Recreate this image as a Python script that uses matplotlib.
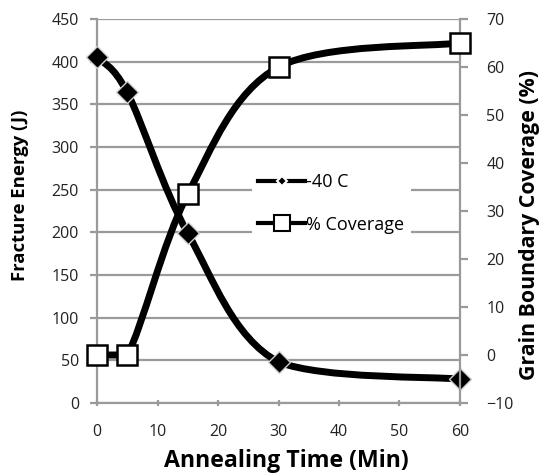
import matplotlib
matplotlib.use("Agg")
import matplotlib.pyplot as plt
from matplotlib.path import Path
from matplotlib.patches import PathPatch
from matplotlib.lines import Line2D
import numpy as np

plt.rcParams['font.family'] = ['Open Sans', 'DejaVu Sans']

time_min = [0, 5, 15, 30, 60]
energy_40c = [405, 364, 199, 48, 28]
coverage_pct = [0, 0, 33.5, 60, 65]
x_ticks = [0, 10, 20, 30, 40, 50, 60]
left_ticks = [0, 50, 100, 150, 200, 250, 300, 350, 400, 450]
right_ticks = [-10, 0, 10, 20, 30, 40, 50, 60, 70]

def smooth_path(xs, ys):
    pts = np.column_stack([xs, ys]).astype(float)
    n = len(pts)
    verts = [pts[0]]
    codes = [Path.MOVETO]
    for i in range(n - 1):
        p0 = pts[i - 1] if i > 0 else pts[i]
        p1 = pts[i]
        p2 = pts[i + 1]
        p3 = pts[i + 2] if i + 2 < n else pts[i + 1]
        c1 = p1 + (p2 - p0) / 6.0
        c2 = p2 - (p3 - p1) / 6.0
        lo, hi = min(p1[1], p2[1]), max(p1[1], p2[1])
        c1[1] = min(max(c1[1], lo), hi)
        c2[1] = min(max(c2[1], lo), hi)
        verts += [c1, c2, p2]
        codes += [Path.CURVE4] * 3
    return Path(verts, codes)

W, H = 543, 474
fig = plt.figure(figsize=(W / 100, H / 100), dpi=100)
ax = fig.add_axes([97 / W, 1 - 403 / H, 363 / W, 384 / H])
ax2 = ax.twinx()

grid_c = '#9a9a9a'
ax.set_xlim(0, 60)
ax.set_ylim(0, 450)
ax2.set_ylim(-10, 70)
ax.set_xticks(x_ticks)
ax.set_yticks(left_ticks)
ax2.set_yticks(right_ticks)
ax.yaxis.grid(True, color=grid_c, linewidth=1.6)
ax.set_axisbelow(True)

for a in (ax, ax2):
    for s in a.spines.values():
        s.set_visible(False)
for a, side in ((ax, 'left'), (ax, 'bottom'), (ax2, 'right')):
    a.spines[side].set_visible(True)
    a.spines[side].set_color(grid_c)
    a.spines[side].set_linewidth(1.6)

ax.tick_params(axis='y', length=5, width=1.6, color=grid_c, pad=8, labelsize=11.5, labelcolor='#222222')
ax.tick_params(axis='x', length=4, width=1.6, color=grid_c, pad=13, labelsize=11.5, labelcolor='#222222', direction='inout')
ax2.tick_params(axis='y', length=6, width=1.6, color=grid_c, pad=13, labelsize=11.5, labelcolor='#222222')

# -40 C series
p1 = PathPatch(smooth_path(time_min, energy_40c), facecolor='none', edgecolor='black',
               linewidth=5, zorder=3, clip_on=False)
ax.add_patch(p1)
ax.plot(time_min, energy_40c, linestyle='none', marker='D', markersize=11,
        markerfacecolor='black', markeredgecolor='#cfcfcf', markeredgewidth=1, zorder=4, clip_on=False)

# coverage series
p2 = PathPatch(smooth_path(time_min, coverage_pct), facecolor='none', edgecolor='black',
               linewidth=5, zorder=3, clip_on=False)
ax2.add_patch(p2)
ax2.plot(time_min, coverage_pct, linestyle='none', marker='s', markersize=15,
         markerfacecolor='white', markeredgecolor='black', markeredgewidth=1.8, zorder=4, clip_on=False)

fig.text(286 / W, 1 - 467 / H, 'Annealing Time (Min)', fontsize=16.7, fontweight='bold',
         ha='center', va='baseline')
fig.text(20 / W, 1 - 195 / H, 'Fracture Energy (J)', fontsize=13.3, fontweight='bold',
         ha='center', va='center', rotation=90)
fig.text(529 / W, 1 - 225 / H, 'Grain Boundary Coverage (%)', fontsize=15.3, fontweight='bold',
         ha='center', va='center', rotation=90)

handles = [
    Line2D([], [], color='black', linewidth=3, marker='D', markersize=5,
           markerfacecolor='black', markeredgecolor='white', markeredgewidth=1.5),
    Line2D([], [], color='black', linewidth=3, marker='s', markersize=11,
           markerfacecolor='white', markeredgecolor='black', markeredgewidth=1.5),
]
leg = ax2.legend(handles, ['-40 C', '% Coverage'], loc='center left',
                 bbox_to_anchor=(0.402, 0.52), frameon=True, framealpha=1,
                 facecolor='white', edgecolor='none', fontsize=13,
                 handlelength=2.6, handletextpad=0.05, labelspacing=1.35,
                 borderpad=0.35, fancybox=False)
leg.set_zorder(10)

fig.savefig('out.png', dpi=100)
